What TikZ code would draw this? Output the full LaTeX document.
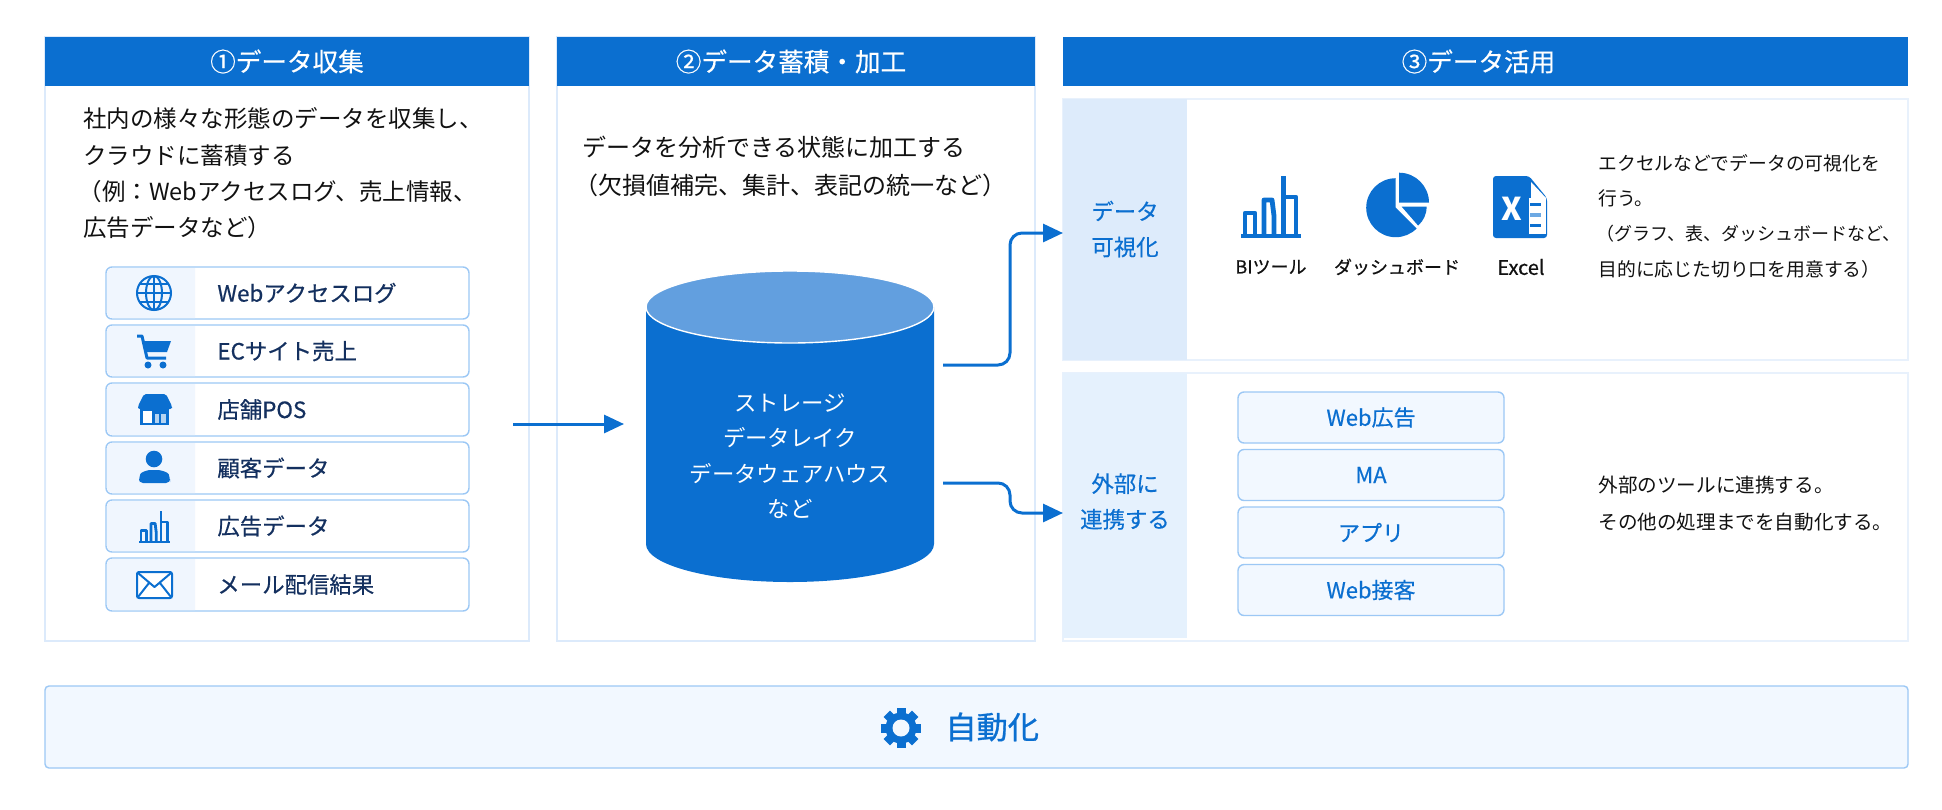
\documentclass[tikz,border=0pt]{standalone}
\usepackage{fontspec}
\setmainfont{Noto Sans CJK JP}
\newfontfamily\medfont[FakeBold=0.5]{Noto Sans CJK JP}
\newfontfamily\heavyfont[FakeBold=0.9]{Noto Sans CJK JP}
\usetikzlibrary{arrows.meta,fit}
\definecolor{mainblue}{HTML}{0B6FD0}
\definecolor{topblue}{HTML}{629FDF}
\definecolor{panelline}{HTML}{DCEAFB}
\definecolor{panelfaint}{HTML}{E8F1FC}
\definecolor{itemline}{HTML}{9CC8F5}
\definecolor{itemband}{HTML}{F0F6FE}
\definecolor{bandone}{HTML}{DDEBFB}
\definecolor{bandtwo}{HTML}{E5F1FD}
\definecolor{softfill}{HTML}{F2F8FF}
\definecolor{navy}{HTML}{14305F}
\definecolor{ink}{HTML}{111111}
\newcommand{\fsz}[2]{\fontsize{#1}{#2}\selectfont}
\newcommand{\barsglyph}[4]{% x, y, scale, line width
  \begin{scope}[shift={(#1,#2)},scale=#3,draw=mainblue,line width=#4,line join=round]
    \draw (4,61) -- (4,37) -- (14,37) -- (14,61);
    \draw (23,61) -- (23,24) -- (31,24) -- (33,40) -- (33,61);
    \fill[mainblue] (40,0) rectangle (45,61);
    \draw (45,21) -- (55,21) -- (55,61);
    \fill[mainblue] (0,58) rectangle (60,62);
  \end{scope}}
\tikzset{
  x=0.5pt,y=-0.5pt,
  panelbox/.style={draw=panelline,line width=0.8pt,fill=white,inner sep=0pt},
  header/.style={fill=mainblue,text=white,inner sep=0pt,minimum height=24.5pt,font=\medfont\fsz{12.8}{15}},
  itembox/.style={draw=itemline,line width=0.7pt,fill=white,rounded corners=3pt,inner sep=0pt},
  softbox/.style={draw=itemline,line width=0.7pt,fill=softfill,rounded corners=3pt,inner sep=0pt,minimum width=133pt,minimum height=25.5pt,text=mainblue,font=\medfont\fsz{11}{13}},
  itemtext/.style={anchor=west,inner sep=0pt,text=navy,font=\medfont\fsz{11.2}{13}},
  bodytext/.style={anchor=west,inner sep=0pt,align=left,text=ink},
  bandbox/.style={inner sep=0pt,align=center,text=mainblue,font=\medfont\fsz{11.2}{17.8}},
  iconlabel/.style={inner sep=0pt,text=ink,font=\medfont\fsz{9}{11}},
  flow/.style={draw=mainblue,line width=1.5pt,rounded corners=6pt,-{Triangle[length=10pt,width=9pt]}},
}
\begin{document}
\begin{tikzpicture}
\path[use as bounding box,fill=white] (0,0) rectangle (1942,809);

% column panels
\node[panelbox,fit={(45,37)(529,641)}] (panelA) {};
\node[panelbox,fit={(557,37)(1035,641)}] (panelB) {};
\node[header,minimum width=242pt] (headA) at (287,61.5) {①データ収集};
\node[header,minimum width=239pt] (headB) at (796,61.5) {②データ蓄積・加工\kern5pt};
\node[header,minimum width=422.5pt] (headC) at (1485.5,61.5) {③データ活用\kern7pt};

% column 1 text
\node[bodytext,font=\fsz{11.75}{18.2}] (introA) at (83,173.5) {社内の様々な形態のデータを収集し、\\クラウドに蓄積する\\\hspace{-0.2em}（例：Webアクセスログ、売上情報、\\広告データなど）};

% column 1 items
\foreach \nm/\ya/\yb/\lbl in {1/267/319/Webアクセスログ,2/325/377/ECサイト売上,3/383/436/店舗POS,4/442/494/顧客データ,5/500/552/広告データ,6/558/611/メール配信結果}{
  \node[itembox,fit={(106,\ya)(469,\yb)}] (item\nm) {};
  \fill[itemband] (195,{\ya+1}) [rounded corners=2.5pt] -- (107,{\ya+1}) -- (107,{\yb-1}) [sharp corners] -- (195,{\yb-1}) -- cycle;
  \node[itemtext] (itemlabel\nm) at (217,{(\ya+\yb)/2}) {\lbl};
}
% globe
\begin{scope}[draw=mainblue,line width=1pt]
  \draw (154,293) circle (17);
  \draw (154,293) ellipse (8 and 17);
  \draw (154,276) -- (154,310);
  \draw (137,293) -- (171,293);
  \draw (140,284) -- (168,284);
  \draw (140,302) -- (168,302);
\end{scope}
% cart
\draw[mainblue,line width=1.5pt,line join=round] (137,336) -- (142,336) -- (147,358) -- (166,358);
\fill[mainblue] (143,341) -- (171,341) -- (167,352) -- (145,352) -- cycle;
\fill[mainblue] (148,365) circle (3.5) (163,365) circle (3.5);
% store
\fill[mainblue,rounded corners=1pt] (144,394) -- (166,394) -- (172,406) -- (172,409) -- (138,409) -- (138,406) -- cycle;
\fill[mainblue] (140,409) rectangle (169,425);
\fill[white] (143,411) rectangle (152,423);
\fill[white!70!mainblue] (155,414) rectangle (166,423);
\fill[mainblue] (159,414) rectangle (161,423);
% person
\fill[mainblue] (154,459) circle (8.3);
\fill[mainblue,rounded corners=2pt] (139,483) -- (139,478) .. controls (141,472) and (148,470) .. (154,470) .. controls (160,470) and (168,472) .. (170,478) -- (170,483) -- cycle;
% small bars
\barsglyph{139}{511}{0.52}{1.4pt}
% envelope
\draw[mainblue,line width=1pt,fill=white,rounded corners=1pt] (137,572) rectangle (172,598);
\draw[mainblue,line width=1pt,line join=round] (138,573) -- (154.5,587) -- (171,573) (138,597) -- (149,583) (171,597) -- (160,583);

% column 2
\node[bodytext,font=\fsz{12}{19}] (introB) at (582,166) {データを分析できる状態に加工する\\\hspace{-0.35em}（欠損値補完、集計、表記の統一など）};
% cylinder
\fill[mainblue] (646,307) -- (646,544) arc[start angle=180,end angle=0,x radius=144,y radius=38] -- (934,307) -- cycle;
\draw[white,line width=0.7pt,fill=topblue] (790,307) ellipse (144 and 36);
\node[inner sep=0pt,align=center,text=white,font=\fsz{11.2}{17.7}] (store) at (790,456) {ストレージ\\データレイク\\データウェアハウス\\など};

% column 3 panels
\node[panelbox,draw=panelfaint,fit={(1063,99)(1908,360)}] (panelV) {};
\node[panelbox,draw=panelfaint,fit={(1063,373)(1908,641)}] (panelL) {};
\fill[bandone] (1063,99) rectangle (1187,360);
\node[bandbox] (bandV) at (1125,229) {データ\\可視化};
\fill[bandtwo] (1063,373) rectangle (1187,638);
\node[bandbox] (bandL) at (1125,501.5) {外部に\\連携する};
\coordinate (entryV) at (1063,233);
\coordinate (entryL) at (1063,513);

% visualisation icons
\barsglyph{1241}{176}{1}{2.4pt}
\fill[mainblue] (1395.7,207.7) -- (1395.7,178.2) arc[start angle=270,end angle=45,radius=29.5] -- cycle;
\fill[mainblue] (1399,202.7) -- (1429,202.7) arc[start angle=0,end angle=-90,radius=30] -- cycle;
\fill[mainblue] (1401.7,206.7) -- (1426.7,206.7) arc[start angle=0,end angle=49,radius=25] -- cycle;
\fill[mainblue,rounded corners=1.5pt] (1493,176) -- (1529,176) -- (1547,198) -- (1547,238) -- (1493,238) -- cycle;
\fill[white] (1531,182) -- (1531,198) -- (1546,198) -- cycle;
\fill[white] (1529,198) rectangle (1546,234);
\fill[mainblue] (1530,203) rectangle (1541,206);
\fill[mainblue!60!white] (1530,213) rectangle (1541,217);
\fill[mainblue] (1530,224) rectangle (1541,227);
\node[inner sep=0pt,text=white,font=\bfseries\fsz{15.7}{17}] (xmark) at (1512,209) {X};
\node[iconlabel] (labBI) at (1271,267) {BIツール};
\node[iconlabel] (labDash) at (1397,267) {ダッシュボード};
\node[iconlabel,font=\medfont\fsz{10}{11}] (labXl) at (1521,267) {Excel};
\node[bodytext,font=\fsz{9.4}{17.7}] (textV) at (1598,216) {エクセルなどでデータの可視化を\\行う。\\\hspace{-0.1em}{\fsz{9}{17.7}（グラフ、表、ダッシュボードなど、}\\目的に応じた切り口を用意する）};

% link boxes
\node[softbox] (linkA) at (1371,417.5) {Web広告};
\node[softbox] (linkB) at (1371,475) {MA};
\node[softbox] (linkC) at (1371,532.5) {アプリ};
\node[softbox] (linkD) at (1371,590) {Web接客};
\node[bodytext,font=\fsz{9.8}{18.5}] (textL) at (1598,503.5) {外部のツールに連携する。\\その他の処理までを自動化する。};

% connectors
\coordinate (srcA) at (513,424);
\coordinate (dstA) at (624,424);
\coordinate (srcV) at (943,365);
\coordinate (srcL) at (943,483);
\draw[flow] (srcA) -- (dstA);
\draw[flow] (srcV) -- (1010,365) -- (1010,233) -- (entryV);
\draw[flow] (srcL) -- (1010,483) -- (1010,513) -- (entryL);

% automation bar
\node[draw=itemline,line width=0.7pt,fill=softfill,rounded corners=2pt,inner sep=0pt,fit={(45,686)(1908,768)}] (autobar) {};
\fill[mainblue] (901,728) circle (15.5);
\foreach \ang in {0,45,...,315}{
  \fill[mainblue,rotate around={\ang:(901,728)}] (896.5,708) rectangle (905.5,720);
}
\fill[softfill] (901,728) circle (8.5);
\node[anchor=west,inner sep=0pt,text=mainblue,font=\heavyfont\fsz{15.6}{18}] (autotext) at (945,727) {自動化};
\end{tikzpicture}
\end{document}
